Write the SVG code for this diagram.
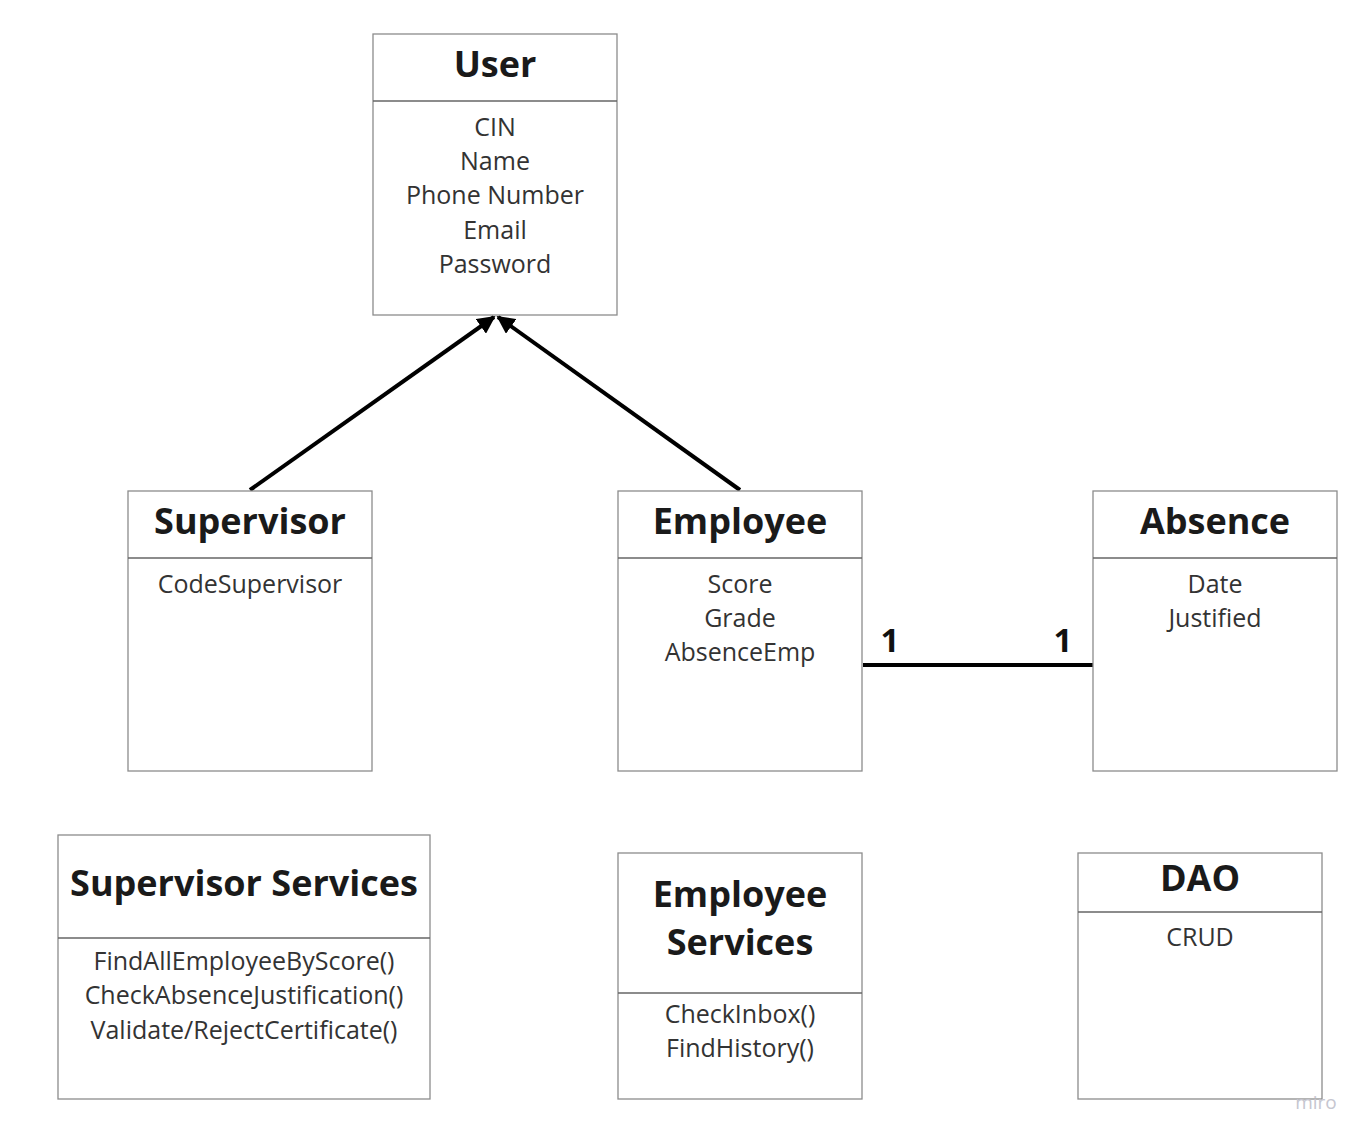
<svg xmlns="http://www.w3.org/2000/svg" width="1369" height="1140" viewBox="0 0 1369 1140">
<style>
.box{fill:#fff;stroke:#8c8c8c;stroke-width:1.3}
.div{stroke:#666;stroke-width:1.3}
.t{font-family:"Open Sans","Liberation Sans",sans-serif;font-weight:700;font-size:36px;fill:#1a1a1a;text-anchor:middle}
.a{font-family:"Open Sans","Liberation Sans",sans-serif;font-weight:400;font-size:25px;fill:#333;text-anchor:middle}
.c{stroke:#000;stroke-width:4;fill:none}
.m{font-family:"Open Sans","Liberation Sans",sans-serif;font-weight:700;font-size:33px;fill:#111;text-anchor:middle}
</style>
<defs>
<marker id="ah" viewBox="0 0 10 10" refX="9" refY="5" markerWidth="4.5" markerHeight="4.5" orient="auto" markerUnits="strokeWidth">
<path d="M0,0 L10,5 L0,10 Z" fill="#000"/>
</marker>
</defs>
<rect width="1369" height="1140" fill="#fff"/>
<g id="connectors">
<line class="c" x1="250" y1="490" x2="494" y2="317" marker-end="url(#ah)"/>
<line class="c" x1="740" y1="490" x2="498" y2="317" marker-end="url(#ah)"/>
<line class="c" x1="863" y1="665" x2="1093" y2="665"/>
<text class="m" x="890" y="652">1</text>
<text class="m" x="1063" y="652">1</text>
</g>
<g id="user">
<rect class="box" x="373" y="34" width="244" height="281"/>
<line class="div" x1="373" y1="101" x2="617" y2="101"/>
<text class="t" x="495" y="77">User</text>
<text class="a" x="495" y="136">CIN</text>
<text class="a" x="495" y="170">Name</text>
<text class="a" x="495" y="204">Phone Number</text>
<text class="a" x="495" y="239">Email</text>
<text class="a" x="495" y="273">Password</text>
</g>
<g id="supervisor">
<rect class="box" x="128" y="491" width="244" height="280"/>
<line class="div" x1="128" y1="558" x2="372" y2="558"/>
<text class="t" x="250" y="534">Supervisor</text>
<text class="a" x="250" y="593">CodeSupervisor</text>
</g>
<g id="employee">
<rect class="box" x="618" y="491" width="244" height="280"/>
<line class="div" x1="618" y1="558" x2="862" y2="558"/>
<text class="t" x="740" y="534">Employee</text>
<text class="a" x="740" y="593">Score</text>
<text class="a" x="740" y="627">Grade</text>
<text class="a" x="740" y="661">AbsenceEmp</text>
</g>
<g id="absence">
<rect class="box" x="1093" y="491" width="244" height="280"/>
<line class="div" x1="1093" y1="558" x2="1337" y2="558"/>
<text class="t" x="1215" y="534">Absence</text>
<text class="a" x="1215" y="593">Date</text>
<text class="a" x="1215" y="627">Justified</text>
</g>
<g id="supervisor-services">
<rect class="box" x="58" y="835" width="372" height="264"/>
<line class="div" x1="58" y1="938" x2="430" y2="938"/>
<text class="t" x="244" y="896">Supervisor Services</text>
<text class="a" x="244" y="970">FindAllEmployeeByScore()</text>
<text class="a" x="244" y="1004">CheckAbsenceJustification()</text>
<text class="a" x="244" y="1039">Validate/RejectCertificate()</text>
</g>
<g id="employee-services">
<rect class="box" x="618" y="853" width="244" height="246"/>
<line class="div" x1="618" y1="993" x2="862" y2="993"/>
<text class="t" x="740" y="907">Employee</text>
<text class="t" x="740" y="955">Services</text>
<text class="a" x="740" y="1023">CheckInbox()</text>
<text class="a" x="740" y="1057">FindHistory()</text>
</g>
<g id="dao">
<rect class="box" x="1078" y="853" width="244" height="246"/>
<line class="div" x1="1078" y1="912" x2="1322" y2="912"/>
<text class="t" x="1200" y="891">DAO</text>
<text class="a" x="1200" y="946">CRUD</text>
</g>
<text x="1316" y="1109" font-family="'Open Sans','Liberation Sans',sans-serif" font-size="19" fill="#c6c6d0" text-anchor="middle">miro</text>
</svg>
